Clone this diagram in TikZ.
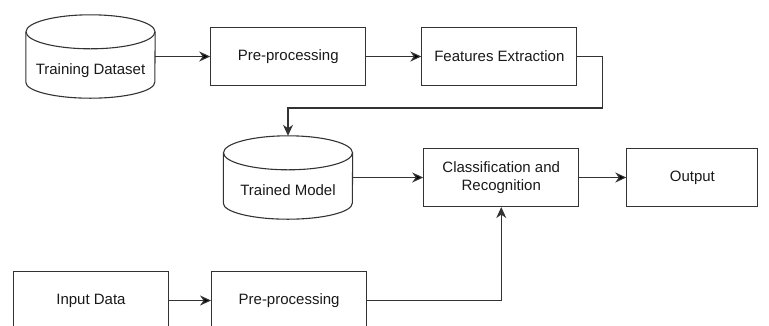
\documentclass[tikz,border=0pt]{standalone}
\usepackage{fontspec}
\setmainfont{Liberation Sans}
\usetikzlibrary{positioning}
\usetikzlibrary{shapes,shapes.geometric}
\usetikzlibrary{arrows.meta}
\definecolor{lineclr}{HTML}{333333}
\tikzset{block/.style={
        draw=lineclr, 
        rectangle, 
        minimum height=58pt, 
        minimum width=155pt,  
        align=center,
        line width=1.1pt } }
\tikzset{store/.style={
    rectangle, 
    inner sep=0pt,
    minimum height=83pt, 
    minimum width=129pt,  
    text height=38pt,
    text depth=3pt } }
\tikzset{flow/.style={
    -{Stealth[length=11pt,width=10pt,inset=3.5pt]}, 
    draw=lineclr, 
    line width=1.1pt } }
% cylinder outline round a store node
\newcommand{\drumoutline}[1]{%
  \draw[lineclr, line width=1.1pt] ([yshift=-17pt]#1.north) ellipse [x radius=64.5pt, y radius=17pt];
  \draw[lineclr, line width=1.1pt] ([yshift=-17pt]#1.north west) -- ([yshift=16pt]#1.south west)
    arc [start angle=180, end angle=360, x radius=64.5pt, y radius=16pt] -- ([yshift=-17pt]#1.north east);
}

\begin{document}
\begin{tikzpicture}[x=1pt,y=-1pt,font=\fontsize{15}{18}\selectfont,text=black!90]
\useasboundingbox (0,0) rectangle (769,325);
\clip (0,0) rectangle (769,325);

\node[store] (trainset) at (90.5,56.5) {Training Dataset}; 
\node[block] (prep1) [right = 55pt of trainset] {Pre-processing}; 
\node[block] (features) [right = 55pt of prep1] {Features Extraction}; 

\node[store] (model) at (288,177.5) {Trained Model}; 
\node[block] (classify) [right = 70.5pt of model] {Classification and\\Recognition}; 
\node[block, minimum width=131pt] (output) [right = 47pt of classify] {Output}; 

\node[block] (input) at (91,300.5) {Input Data}; 
\node[block] (prep2) [right = 42pt of input] {Pre-processing}; 

\drumoutline{trainset}
\drumoutline{model}

\path[flow]      
(trainset) edge (prep1) 
(prep1) edge (features) 
(model) edge (classify) 
(classify) edge (output) 
(input) edge (prep2) 
;    
\draw[flow]
(features.east) -- ++(25,0) -- ++(0,51.5) -| (model.north);
\draw[flow]
(prep2.east) -| (classify.south);

\end{tikzpicture}
\end{document}
